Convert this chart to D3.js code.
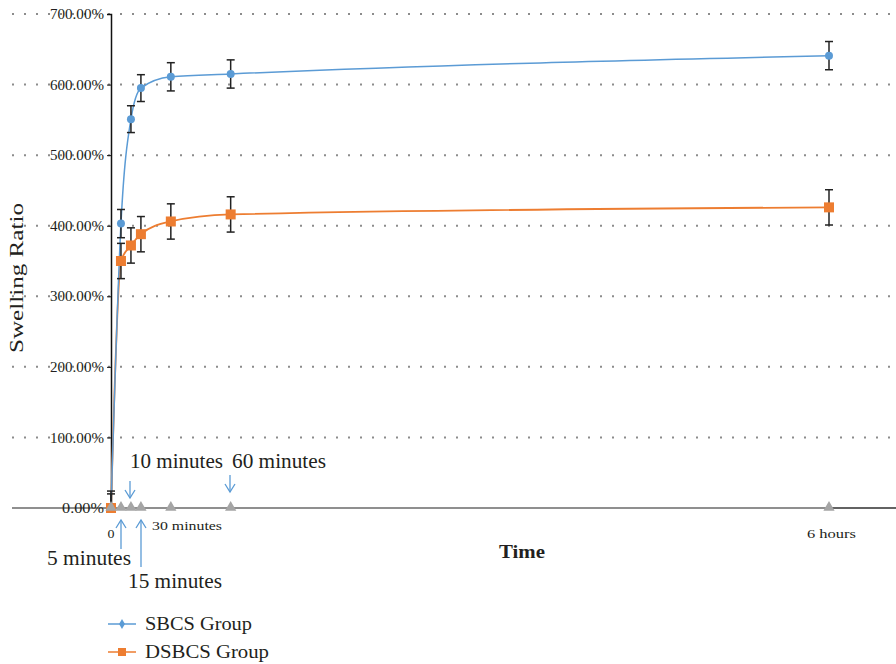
<!DOCTYPE html>
<html lang="en">
<head>
<meta charset="utf-8">
<title>Swelling Ratio</title>
<script src="https://d3js.org/d3.v7.min.js"></script>
<style>
  body{ margin:0; background:#fff; }
  text{ font-family:"Liberation Serif","DejaVu Serif",serif; fill:#231f20; }
</style>
</head>
<body>
<svg id="chart" width="896" height="664"></svg>
<script>
// data
var times = [0, 5, 10, 15, 30, 60, 360];       // minutes
var sbcs = [0, 403, 551, 595, 611, 615, 641];
var sbcsErr = [20, 20, 19, 19, 20, 20, 20];
var dsbcs = [0, 350, 372, 388, 406, 416, 426];
var dsbcsErr = [24, 25, 25, 25, 25, 25, 25];
var yTicks = [0, 100, 200, 300, 400, 500, 600, 700];

var blue = "#5b9bd5", orange = "#ed7d31";
var svg = d3.select("#chart");

var x = d3.scaleLinear().domain([0, 360]).range([111, 829]);
var y = d3.scaleLinear().domain([0, 700]).range([508, 14]);

// helper: text stretched to the width seen in the picture
function label(px, py, str, size, len, opts){
  opts = opts || {};
  var t = svg.append("text")
     .attr("x", px).attr("y", py)
     .attr("font-size", size)
     .attr("textLength", len)
     .attr("lengthAdjust", "spacingAndGlyphs")
     .text(str);
  if (opts.anchor) t.attr("text-anchor", opts.anchor);
  if (opts.bold) t.attr("font-weight", "bold");
  if (opts.transform) t.attr("transform", opts.transform);
  return t;
}

// dotted grid
svg.selectAll("line.grid")
   .data(yTicks.filter(function(d){ return d > 0; }))
   .enter().append("line")
   .attr("class", "grid")
   .attr("x1", 12).attr("x2", 896)
   .attr("y1", function(d){ return y(d); })
   .attr("y2", function(d){ return y(d); })
   .attr("stroke", "#8c8c8c")
   .attr("stroke-width", 2)
   .attr("stroke-dasharray", "2,10");

// x axis line (y = 0)
svg.append("line")
   .attr("x1", 12).attr("x2", 896)
   .attr("y1", y(0)).attr("y2", y(0))
   .attr("stroke", "#8f8f8f").attr("stroke-width", 2);
svg.append("line")
   .attr("x1", x(360)).attr("x2", 896)
   .attr("y1", y(0)).attr("y2", y(0))
   .attr("stroke", "#555").attr("stroke-width", 1.5);

// y axis
var yAxis = d3.axisLeft(y)
   .tickValues(yTicks)
   .tickSize(4)
   .tickPadding(3)
   .tickFormat(function(d){ return d.toFixed(2) + "%"; });
var gy = svg.append("g")
   .attr("transform", "translate(" + x(0) + ",0)")
   .call(yAxis);
gy.select(".domain").attr("stroke", "#111").attr("stroke-width", 1.5);
gy.selectAll(".tick line").attr("stroke", "#111");
gy.selectAll(".tick text")
  .attr("font-family", "Liberation Serif")
  .attr("font-size", 14.5)
  .attr("textLength", function(d){ return d >= 100 ? 54 : 42; })
  .attr("lengthAdjust", "spacingAndGlyphs")
  .attr("fill", "#3a3a3a");

// series lines
var line = d3.line()
   .x(function(d){ return x(d[0]); })
   .y(function(d){ return y(d[1]); })
   .curve(d3.curveMonotoneX);

svg.append("path")
   .datum(d3.zip(times, dsbcs))
   .attr("d", line)
   .attr("fill", "none").attr("stroke", orange).attr("stroke-width", 1.8);
svg.append("path")
   .datum(d3.zip(times, sbcs))
   .attr("d", line)
   .attr("fill", "none").attr("stroke", blue).attr("stroke-width", 1.5);

// error bars
function errorBars(vals, errs){
  var g = svg.append("g").attr("stroke", "#222").attr("stroke-width", 1.5);
  times.forEach(function(t, i){
    var cx = x(t), lo = y(vals[i] - errs[i]), hi = y(vals[i] + errs[i]);
    if (vals[i] - errs[i] < 0) lo = y(0);
    g.append("line").attr("x1", cx).attr("x2", cx).attr("y1", lo).attr("y2", hi);
    g.append("line").attr("x1", cx - 4).attr("x2", cx + 4).attr("y1", hi).attr("y2", hi);
    g.append("line").attr("x1", cx - 4).attr("x2", cx + 4).attr("y1", lo).attr("y2", lo);
  });
}
errorBars(dsbcs, dsbcsErr);
errorBars(sbcs, sbcsErr);

// markers
svg.selectAll("circle.sbcs")
   .data(d3.zip(times, sbcs)).enter().append("circle")
   .attr("class", "sbcs")
   .attr("cx", function(d){ return x(d[0]); })
   .attr("cy", function(d){ return y(d[1]); })
   .attr("r", 4)
   .attr("fill", blue);
svg.selectAll("rect.dsbcs")
   .data(d3.zip(times, dsbcs)).enter().append("rect")
   .attr("class", "dsbcs")
   .attr("x", function(d){ return x(d[0]) - 5; })
   .attr("y", function(d){ return y(d[1]) - 5; })
   .attr("width", 10).attr("height", 10)
   .attr("fill", orange);

// time markers (gray triangles on zero line)
var tri = d3.symbol().type(d3.symbolTriangle).size(55);
svg.selectAll("path.tri")
   .data(times).enter().append("path")
   .attr("class", "tri")
   .attr("d", tri)
   .attr("transform", function(d){ return "translate(" + x(d) + "," + (y(0) - 0.5) + ")"; })
   .attr("fill", "#a5a5a5");

// x labels
label(x(0), 538, "0", 13.5, 7, {anchor: "middle"});
label(152, 530, "30 minutes", 13.5, 70);
label(807, 538, "6 hours", 13.5, 49);

label(499, 558, "Time", 19, 46, {bold: true});
label(0, 0, "Swelling Ratio", 18, 150, {anchor: "middle", transform: "translate(23,278) rotate(-90)"});

// annotations
label(130, 468, "10 minutes", 20, 93);
label(232, 468, "60 minutes", 20, 94);
label(47, 565, "5 minutes", 20, 84);
label(128, 588, "15 minutes", 20, 94);

function arrow(xp, y1, y2){
  var dir = y2 > y1 ? -1 : 1;
  var g = svg.append("g").attr("stroke", blue).attr("stroke-width", 1.3).attr("fill", "none");
  g.append("line").attr("x1", xp).attr("x2", xp).attr("y1", y1).attr("y2", y2);
  g.append("path").attr("d", "M" + (xp - 5) + "," + (y2 + dir * 8) + " L" + xp + "," + y2 + " L" + (xp + 5) + "," + (y2 + dir * 8));
}
arrow(130, 481, 498);
arrow(230, 475, 492);
arrow(121, 549, 520);
arrow(141, 567, 520);

// legend
var legendNames = ["SBCS Group", "DSBCS Group"];
var legendColors = [blue, orange];
var legendWidths = [107, 124];
legendNames.forEach(function(name, i){
  var ly = 624 + i * 28;
  svg.append("line").attr("x1", 108).attr("x2", 136).attr("y1", ly).attr("y2", ly)
     .attr("stroke", legendColors[i]).attr("stroke-width", 1.5);
  if (i === 0) {
    svg.append("path").attr("d", d3.symbol().type(d3.symbolDiamond).size(30))
       .attr("transform", "translate(122," + ly + ")").attr("fill", legendColors[i]);
  } else {
    svg.append("rect").attr("x", 118).attr("y", ly - 4).attr("width", 8).attr("height", 8)
       .attr("fill", legendColors[i]);
  }
  label(145, ly + 6, name, 19, legendWidths[i]);
});
</script>
</body>
</html>
